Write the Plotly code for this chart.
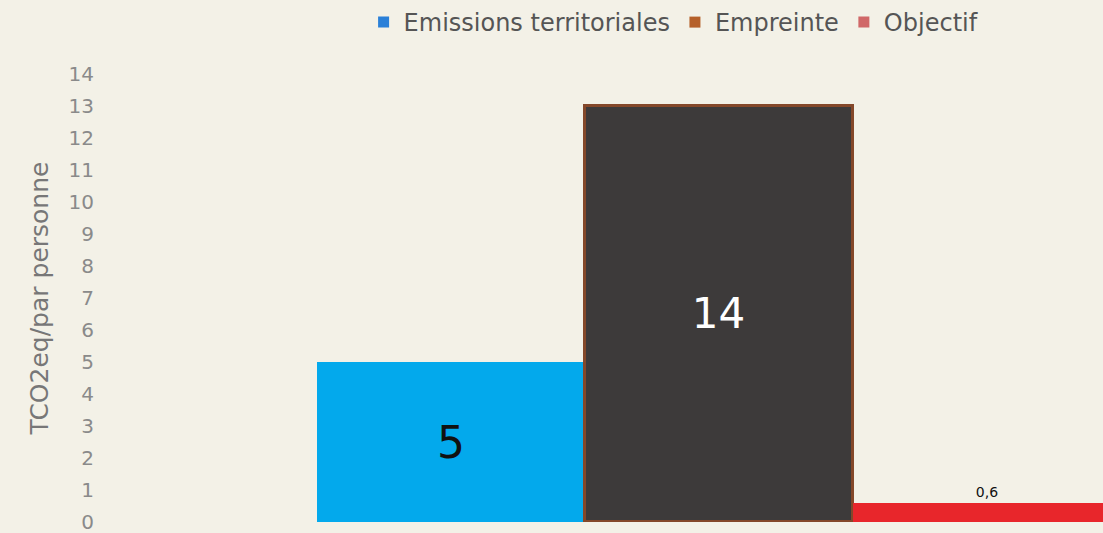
import plotly.graph_objects as go

categories = ["Emissions territoriales", "Empreinte", "Objectif"]
values = [5, 13, 0.6]
labels = ["5", "14", "0,6"]
bar_colors = ["#03a9ec", "#3d3a3a", "#e8262b"]
legend_colors = ["#2a80d8", "#b5602a", "#d06868"]
label_colors = ["#111111", "#ffffff", "#111111"]
label_sizes = [44, 42, 14]
y_ticks = list(range(0, 15))

FONT = "DejaVu Sans"
BG = "#f3f1e7"

fig = go.Figure()
for i, cat in enumerate(categories):
    fig.add_trace(go.Bar(
        x=[cat], y=[values[i]], width=1,
        marker=dict(color=bar_colors[i],
                    line=dict(color="#84482a" if i == 1 else bar_colors[i],
                              width=3 if i == 1 else 0)),
        text=[labels[i]],
        textposition="outside" if i == 2 else "inside",
        insidetextanchor="middle",
        textfont=dict(family=FONT, size=label_sizes[i], color=label_colors[i]),
        showlegend=False, cliponaxis=False,
    ))
for i, cat in enumerate(categories):
    fig.add_trace(go.Scatter(
        x=[None], y=[None], mode="markers", name=cat,
        marker=dict(symbol="square", size=11, color=legend_colors[i]),
    ))

fig.update_layout(
    width=1103, height=533,
    margin=dict(l=95, r=0, t=72, b=11),
    paper_bgcolor=BG, plot_bgcolor=BG,
    barmode="overlay", bargap=0,
    font=dict(family=FONT, color="#666666"),
    legend=dict(orientation="h", x=0.574, xanchor="center", y=1.115, yanchor="middle",
                font=dict(family=FONT, size=24, color="#555555"),
                itemwidth=30, tracegroupgap=0, bgcolor="rgba(0,0,0,0)"),
    xaxis=dict(type="category", categoryorder="array", categoryarray=categories,
               range=[-1.328, 2.433], showticklabels=False, showgrid=False,
               zeroline=False, showline=False, ticks=""),
    yaxis=dict(range=[0, 14], tickmode="array", tickvals=y_ticks,
               ticktext=[str(t) for t in y_ticks], ticklabeloverflow="allow",
               tickfont=dict(family=FONT, size=20, color="#8a8a8a"),
               showgrid=False, zeroline=False, showline=False, ticks="",
               title=dict(text="TCO2eq/par personne", standoff=12,
                          font=dict(family=FONT, size=25, color="#777777"))),
)
fig.write_html("out.html", config={"displayModeBar": False},
               post_script="document.body.style.margin='0';document.body.style.background='" + BG + "';")
